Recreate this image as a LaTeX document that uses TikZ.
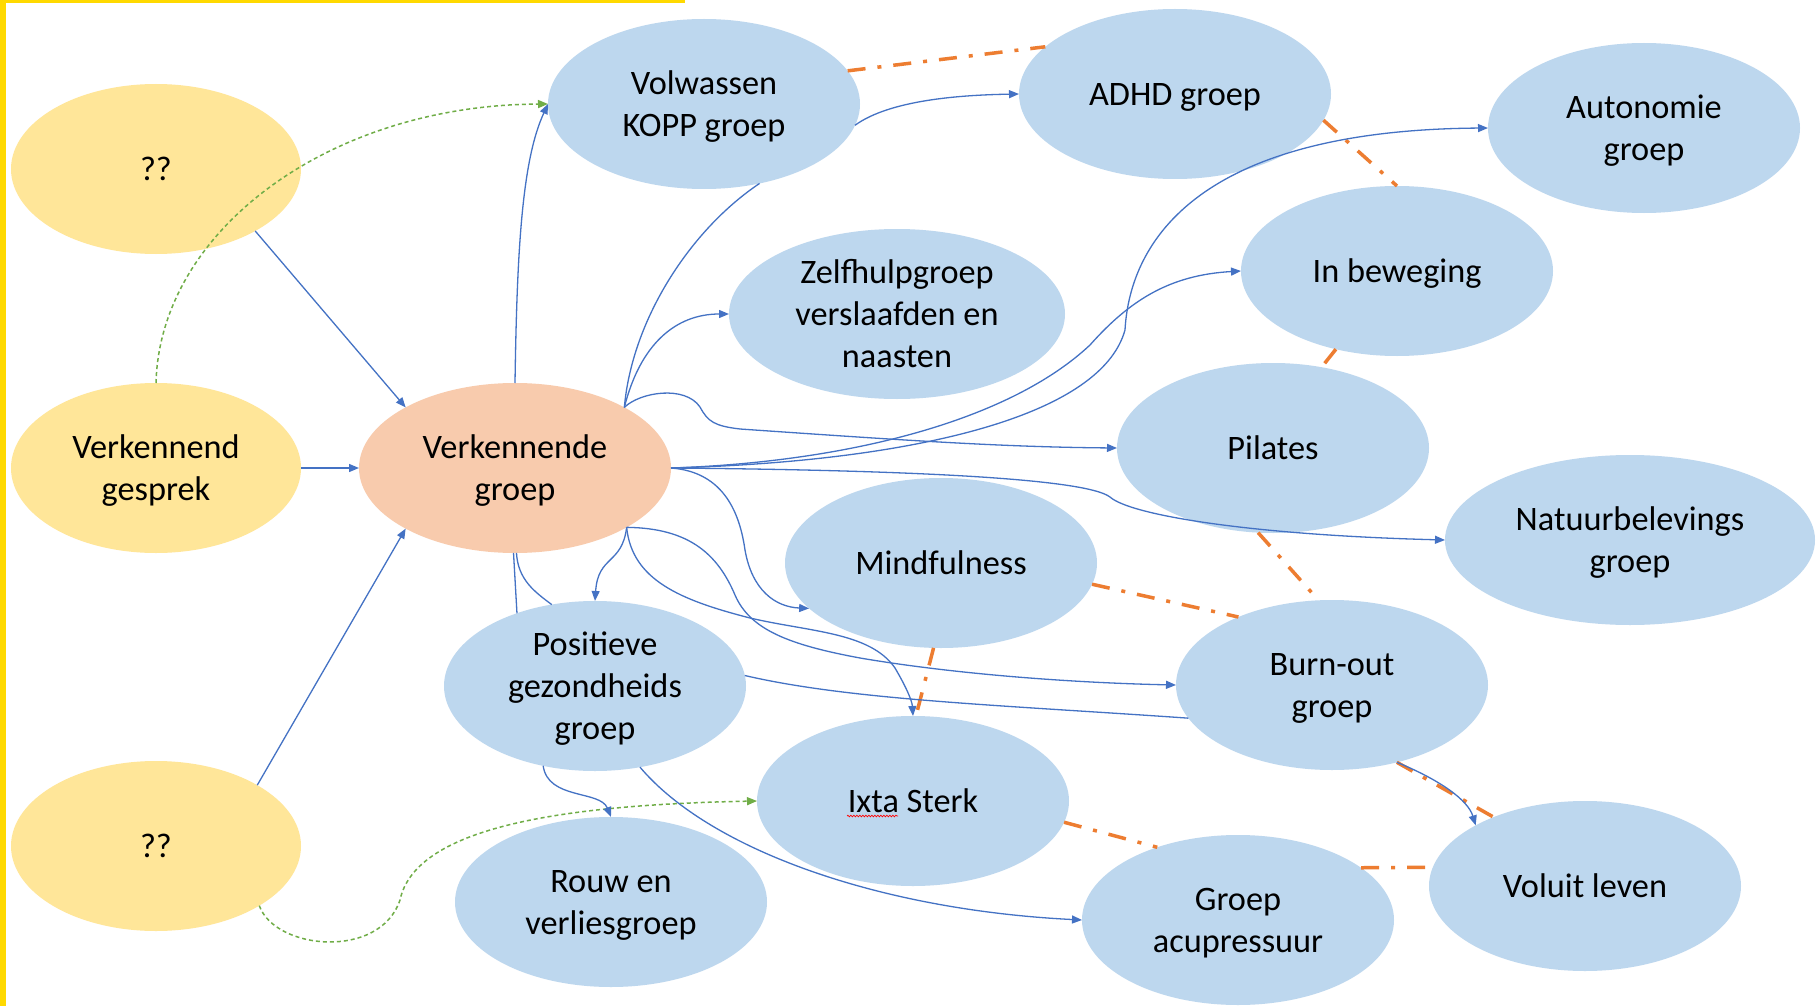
\documentclass[tikz,border=0pt]{standalone}
\usepackage{fontspec}
\setmainfont{Carlito}
\usetikzlibrary{shapes.geometric,arrows.meta,decorations.pathmorphing}
\definecolor{nodeblue}{RGB}{189,215,238}
\definecolor{nodeyellow}{RGB}{255,230,153}
\definecolor{nodepeach}{RGB}{248,203,173}
\definecolor{lineblue}{RGB}{68,114,196}
\definecolor{lineorange}{RGB}{237,125,49}
\definecolor{linegreen}{RGB}{112,173,71}
\definecolor{bordery}{RGB}{255,217,0}
\newcommand\ls{\rule[-9.2pt]{0pt}{41.9pt}}
\begin{document}
\begin{tikzpicture}[x=1pt,y=-1pt,
  base/.style={ellipse, inner sep=-14pt, outer sep=0pt, minimum height=170pt, align=center, font=\fontsize{34.3}{42}\selectfont, text=black},
  bluenode/.style={base, fill=nodeblue, minimum width=312pt},
  yelnode/.style={base, fill=nodeyellow, minimum width=290pt},
  peachnode/.style={base, fill=nodepeach, minimum width=312pt},
  conn/.style={draw=lineblue, line width=1.3pt, -{Triangle[length=10pt,width=8pt]}},
  plainconn/.style={draw=lineblue, line width=1.3pt},
  hint/.style={draw=linegreen, line width=1.5pt, dash pattern=on 4pt off 3pt, -{Triangle[length=10pt,width=8pt]}},
  link/.style={draw=lineorange, line width=3.5pt, dash pattern=on 18pt off 12pt on 4pt off 12pt},
  squiggle/.style={draw=red, line width=0.7pt, decorate, decoration={snake, segment length=3pt, amplitude=0.8pt}}
]
\useasboundingbox (0,0) rectangle (1816,1006);
\fill[white] (0,0) rectangle (1816,1006);
\fill[bordery] (0,0) rectangle (6,1006);
\fill[bordery] (0,0) rectangle (685,3);

% nodes
\node[yelnode] (q1) at (156,169) {\ls ??};
\node[yelnode] (vg) at (156,468) {\ls Verkennend\\\ls gesprek};
\node[peachnode] (vgr) at (515,468) {\ls Verkennende\\\ls groep};
\node[yelnode] (q2) at (156,846) {\ls ??};
\node[bluenode] (kopp) at (704,104) {\ls Volwassen\\\ls KOPP groep};
\node[bluenode] (adhd) at (1175,94) {\ls ADHD groep};
\node[bluenode] (auto) at (1644,128) {\ls Autonomie\\\ls groep};
\node[bluenode, minimum width=336pt] (zelf) at (897,314) {\ls Zelfhulpgroep\\\ls verslaafden en\\\ls naasten};
\node[bluenode] (inbew) at (1397,271) {\ls In beweging};
\node[bluenode] (pil) at (1273,448) {\ls Pilates};
\node[bluenode, minimum width=370pt] (nat) at (1630,540) {\ls Natuurbelevings\\\ls groep};
\node[bluenode] (mind) at (941,563) {\ls Mindfulness};
\node[bluenode] (burn) at (1332,685) {\ls Burn-out\\\ls groep};
\node[bluenode, minimum width=302pt] (pos) at (595,686) {\ls Positieve\\\ls gezondheids\\\ls groep};
\node[bluenode] (ixta) at (913,801) {\ls Ixta Sterk};
\node[bluenode] (rouw) at (611,902) {\ls Rouw en\\\ls verliesgroep};
\node[bluenode] (acu) at (1238,920) {\ls Groep\\\ls acupressuur};
\node[bluenode] (vol) at (1585,886) {\ls Voluit leven};

\draw[squiggle] ([xshift=-66pt,yshift=-15pt]ixta.center) -- ([xshift=-15pt,yshift=-15pt]ixta.center);

% orange dash-dot links
\draw[link] (kopp.13) -- (adhd.160);
\draw[link] (adhd.350) -- (inbew.north);
\draw[link] (inbew.232) -- (pil.59);
\draw[link] (pil.260) -- (burn.99);
\draw[link] (mind.352) -- (burn.144);
\draw[link] (mind.265) -- (ixta.88);
\draw[link] (ixta.352) -- (acu.138);
\draw[link] (acu.23) -- (vol.173);
\draw[link] (burn.310) -- (vol.143);

% green dotted
\draw[hint] (vg.north) .. controls (160,230) and (330,105) .. (kopp.west);
\draw[hint] (q2.330) .. controls (275,950) and (380,960) .. (400,900) .. controls (415,830) and (550,805) .. (ixta.west);

% blue connectors
\draw[conn] (q1.328) -- (vgr.151);
\draw[conn] (vg.east) -- (vgr.west);
\draw[conn] (q2.31) -- (vgr.209);
\draw[conn] (vgr.north) .. controls (517,250) and (522,160) .. (kopp.west);
\draw[conn] (kopp.352) .. controls (890,100) and (960,95) .. (adhd.west);
\draw[plainconn] (vgr.29) .. controls (632,320) and (690,230) .. (kopp.305);
\draw[conn] (vgr.29) .. controls (640,345) and (675,314) .. (zelf.west);
\draw[conn] (vgr.29) .. controls (640,392) and (685,385) .. (700,407) .. controls (708,422) and (715,426) .. (740,429) .. controls (900,440) and (1000,447) .. (pil.west);
\draw[conn] (vgr.east) .. controls (850,462) and (1010,420) .. (1090,345) .. controls (1130,300) and (1170,275) .. (inbew.west);
\draw[conn] (vgr.east) .. controls (900,462) and (1100,420) .. (1125,330) .. controls (1130,240) and (1200,130) .. (auto.west);
\draw[conn] (vgr.east) .. controls (900,470) and (1085,478) .. (1110,497) .. controls (1130,515) and (1250,535) .. (nat.west);
\draw[conn] (vgr.east) .. controls (725,472) and (740,515) .. (745,550) .. controls (752,590) and (775,607) .. (mind.199);
\draw[conn] (vgr.332) .. controls (622,565) and (598,555) .. (pos.north);
\draw[conn] (vgr.332) .. controls (690,528) and (718,555) .. (735,595) .. controls (750,630) and (790,645) .. (860,658) .. controls (960,675) and (1080,683) .. (burn.west);
\draw[conn] (vgr.332) .. controls (632,580) and (680,600) .. (750,618) .. controls (810,632) and (870,632) .. (895,668) .. controls (905,685) and (912,700) .. (ixta.north);
\draw[plainconn] (pos.4) .. controls (850,700) and (1000,705) .. (burn.193);
\draw[plainconn] (vgr.269) -- (pos.137);
\draw[plainconn] (vgr.271) .. controls (518,580) and (535,592) .. (pos.118);
\draw[conn] (pos.237) .. controls (548,800) and (600,790) .. (rouw.north);
\draw[conn] (pos.299) .. controls (710,850) and (880,910) .. (acu.west);
\draw[conn] (burn.310) .. controls (1440,780) and (1468,800) .. (vol.151);
\end{tikzpicture}
\end{document}
